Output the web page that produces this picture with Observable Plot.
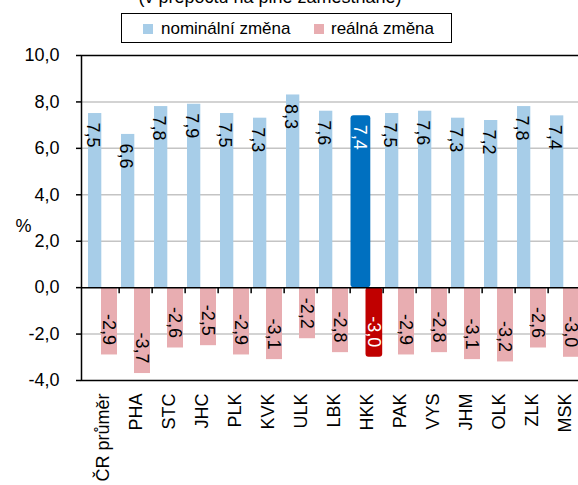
<!DOCTYPE html>
<html>
<head>
<meta charset="utf-8">
<script src="https://cdn.jsdelivr.net/npm/d3@7"></script>
<script src="https://cdn.jsdelivr.net/npm/@observablehq/plot@0.6"></script>
<style>
  html, body { margin: 0; padding: 0; background: #fff; overflow: hidden; width: 578px; height: 485px; }
  body { font-family: "Liberation Sans", Arial, sans-serif; color: #000; position: relative; }
  #title { position: absolute; top: -13px; left: 0; width: 540px; text-align: center; font-size: 18px; line-height: 20px; white-space: nowrap; }
  #legend { position: absolute; left: 121px; top: 13px; width: 329px; height: 28px; border: 1.5px solid #000; box-sizing: content-box; }
  .lg { position: absolute; top: 5px; font-size: 17px; line-height: 20px; white-space: nowrap; }
  .sw { position: absolute; top: 10px; width: 10px; height: 10px; }
  #chart { position: absolute; left: 0; top: 45px; }
</style>
</head>
<body>
<div id="title">(v přepočtu na plně zaměstnané)</div>
<div id="legend"></div>
<div id="chart"></div>
<script>
const categories = ["ČR průměr","PHA","STC","JHC","PLK","KVK","ULK","LBK","HKK","PAK","VYS","JHM","OLK","ZLK","MSK"];
const nominal = [7.5, 6.6, 7.8, 7.9, 7.5, 7.3, 8.3, 7.6, 7.4, 7.5, 7.6, 7.3, 7.2, 7.8, 7.4];
const real = [-2.9, -3.7, -2.6, -2.5, -2.9, -3.1, -2.2, -2.8, -3.0, -2.9, -2.8, -3.1, -3.2, -2.6, -3.0];
const seriesNames = ["nominální změna", "reálná změna"];
const highlight = "HKK";
const yTicks = [-4, -2, 0, 2, 4, 6, 8, 10];
const gridTicks = [-2, 2, 4, 6, 8];

const colors = { nom: "#a7cde8", real: "#e8adb1", nomHL: "#0070c0", realHL: "#c00000" };

const fmt = d3.formatLocale({decimal: ",", thousands: " ", grouping: [3], currency: ["", " Kč"], minus: "-"}).format(".1f");

const rows = categories.map((c, i) => ({cat: c, nom: nominal[i], real: real[i]}));
const normal = rows.filter(d => d.cat !== highlight);
const hl = rows.filter(d => d.cat === highlight);

// legend
const legend = document.getElementById("legend");
const legendItems = [
  {name: seriesNames[0], color: colors.nom, sw: 21, tx: 39},
  {name: seriesNames[1], color: colors.real, sw: 192, tx: 209}
];
for (const it of legendItems) {
  const s = document.createElement("div"); s.className = "sw"; s.style.left = it.sw + "px"; s.style.background = it.color; legend.appendChild(s);
  const t = document.createElement("div"); t.className = "lg"; t.style.left = it.tx + "px"; t.textContent = it.name; legend.appendChild(t);
}

const W = 590, ML = 81, MR = 3.5;
const bw = (W - ML - MR) / categories.length;

const svg = Plot.plot({
  width: W,
  height: 440,
  marginLeft: ML,
  marginRight: MR,
  marginTop: 10,
  marginBottom: 105,
  style: {fontFamily: "'Liberation Sans', Arial, sans-serif", fontSize: "18px", color: "#000", background: "transparent", overflow: "visible"},
  x: {domain: categories, padding: 0},
  y: {domain: [-4, 10]},
  marks: [
    Plot.ruleY(gridTicks, {stroke: "#c4c4c4", strokeWidth: 1.5}),
    Plot.barY(normal, {x: "cat", y1: 0, y2: "nom", fill: colors.nom, insetLeft: 2, insetRight: bw - 16}),
    Plot.barY(normal, {x: "cat", y1: 0, y2: "real", fill: colors.real, insetLeft: 15, insetRight: 2}),
    Plot.barY(hl, {x: "cat", y1: 0, y2: "nom", fill: colors.nomHL, insetLeft: 0.5, insetRight: bw - 21, rx: 3}),
    Plot.barY(hl, {x: "cat", y1: 0, y2: "real", fill: colors.realHL, insetLeft: 15.5, insetRight: 0.8, rx: 3}),
    Plot.text(normal, {x: "cat", y: "nom", text: d => fmt(d.nom), rotate: 90, textAnchor: "start", dy: 9, dx: 7 - bw / 2, fill: "#000", fontSize: 18}),
    Plot.text(normal, {x: "cat", y: "real", text: d => fmt(d.real), rotate: 90, textAnchor: "end", dy: -10, dx: 23 - bw / 2, fill: "#000", fontSize: 18}),
    Plot.text(hl, {x: "cat", y: "nom", text: d => fmt(d.nom), rotate: 90, textAnchor: "start", dy: 9, dx: 9.5 - bw / 2, fill: "#fff", fontSize: 18}),
    Plot.text(hl, {x: "cat", y: "real", text: d => fmt(d.real), rotate: 90, textAnchor: "end", dy: -10, dx: 23.5 - bw / 2, fill: "#fff", fontSize: 18}),
    Plot.ruleY([0], {stroke: "#000", strokeWidth: 1.5}),
    Plot.ruleX(categories.slice(1), {x: d => d, y1: 0, y2: -0.26, dx: -bw / 2, stroke: "#000", strokeWidth: 1.5}),
    Plot.frame({stroke: "#000", strokeWidth: 1.5}),
    Plot.axisY({ticks: yTicks, tickFormat: fmt, tickSize: 5, tickPadding: 17, fontSize: 18, strokeWidth: 1.5}),
    Plot.axisX({tickRotate: -90, tickSize: 0, tickPadding: 13, fontSize: 18, label: null}),
    Plot.text(["%"], {frameAnchor: "left", dx: -66, dy: 8, fontSize: 18, fill: "#000"})
  ]
});
svg.style.maxWidth = "none";
document.getElementById("chart").appendChild(svg);
</script>
</body>
</html>
